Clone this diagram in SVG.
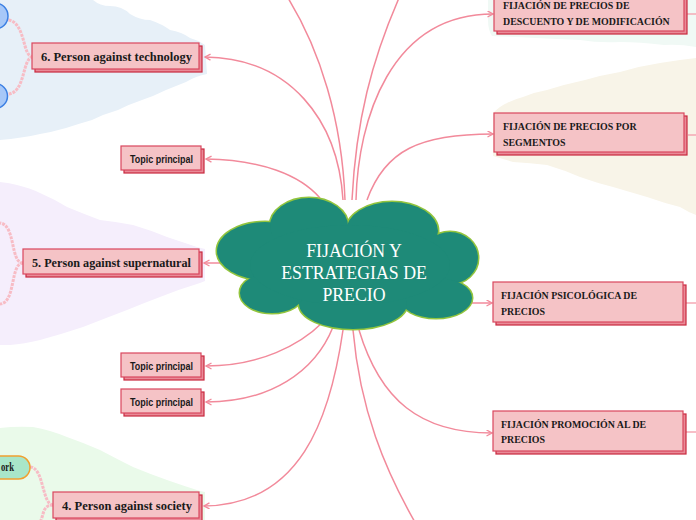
<svg xmlns="http://www.w3.org/2000/svg" width="696" height="520" viewBox="0 0 696 520">
<defs>
<style>
.conn{fill:none;stroke:#f28a9b;stroke-width:1.5}
.sub{fill:none;stroke:#f7bcc5;stroke-width:3;stroke-dasharray:3 1}
.out{fill:none;stroke:#f5a9b5;stroke-width:1.5}
.bk{fill:#e98a97;stroke:#c9283f;stroke-width:1.2}
.fr{fill:#f5c3c6;stroke:#d9475e;stroke-width:1.2}
.lt{font-family:"Liberation Serif","DejaVu Serif",serif;font-weight:bold;font-size:12.5px;fill:#1a1a1a}
.tp{font-family:"Liberation Sans","DejaVu Sans",sans-serif;font-weight:bold;font-size:11.5px;fill:#1a1a1a}
.rt{font-family:"Liberation Serif","Times New Roman",serif;font-weight:bold;font-size:9.9px;fill:#1a1a1a}
.ct{font-family:"Liberation Serif","Times New Roman",serif;font-size:17.8px;fill:#ffffff;text-anchor:middle}
.cs{fill:none;stroke:#93c53e;stroke-width:3}
.cf{fill:#1e8a78}
</style>
<marker id="arr" markerWidth="8" markerHeight="8" refX="6" refY="3.5" orient="auto" markerUnits="userSpaceOnUse">
<path d="M0.5,0.5 L6,3.5 L0.5,6.5" fill="none" stroke="#f28a9b" stroke-width="1.4"/>
</marker>
</defs>

<g id="backgrounds">
<path d="M93,0 Q100,6 110,6 Q122,6 130,14 Q140,20 150,20 Q162,24 170,30 Q182,32 190,38 Q198,40 205,45 L207,74 Q196,76 186,82 Q176,86 166,90 Q154,96 142,100 Q130,104 118,110 Q104,114 92,120 Q78,124 66,128 Q52,132 40,134 Q22,138 0,140 L0,0 Z" fill="#e7f0f8"/>
<path d="M0,182 Q10,183 17,185 Q30,188 40,193 Q54,199 67,207 Q84,214 100,220 Q118,222 133,225 Q150,230 167,237 Q182,242 197,247 L205,249 L205,281 L200,283 Q180,289 160,297 Q144,303 127,310 Q106,318 83,327 Q62,334 40,340 Q24,344 10,345 L0,345 Z" fill="#f5eefc"/>
<path d="M0,428 Q16,426 33,427 Q50,430 67,437 Q84,443 100,450 Q117,459 133,467 Q150,474 167,480 Q184,486 200,491 L205,492 L205,520 L0,520 Z" fill="#eafaea"/>
<path d="M488,0 L696,0 L696,47 Q680,44 664,45 Q640,42 620,42 Q598,43 580,40 Q556,39 536,38 Q512,37 492,36 Q488,30 488,20 Z" fill="#f0f9f5"/>
<path d="M493,113 Q500,106 507,103 Q515,99 523,97 Q535,92 547,90 Q566,84 585,80 Q602,75 620,72 Q640,66 660,63 Q678,60 696,58 L696,215 Q688,212 680,207 Q664,203 647,197 Q630,192 613,187 Q597,183 580,177 Q564,170 547,165 Q530,163 513,162 Q503,159 493,156 Z" fill="#f8f4e8"/>
</g>

<g id="connectors">
<path class="conn" d="M343,200 C338,120 290,58 205,57" marker-end="url(#arr)"/>
<path class="conn" d="M320,198 C300,175 262,160 206,159" marker-end="url(#arr)"/>
<path class="conn" d="M345,200 C342,120 320,50 288,-2"/>
<path class="conn" d="M352,200 C356,120 372,60 399,-2"/>
<path class="conn" d="M356,200 C358,120 390,14 493,14" marker-end="url(#arr)"/>
<path class="conn" d="M367,200 C385,150 420,134 493,134" marker-end="url(#arr)"/>
<path class="conn" d="M224,263 L204,263" marker-end="url(#arr)"/>
<path class="conn" d="M466,303 L492,303" marker-end="url(#arr)"/>
<path class="conn" d="M323,322 C300,345 260,366 206,366" marker-end="url(#arr)"/>
<path class="conn" d="M333,327 C315,372 270,402 206,402" marker-end="url(#arr)"/>
<path class="conn" d="M343,330 C330,420 300,505 204,506" marker-end="url(#arr)"/>
<path class="conn" d="M353,330 C360,410 385,470 416,524"/>
<path class="conn" d="M359,330 C380,400 420,433 492,433" marker-end="url(#arr)"/>
<path class="sub" d="M33,57 C22,57 26,22 8,20"/>
<path class="sub" d="M33,57 C22,57 26,93 8,94"/>
<path class="sub" d="M23,263 C10,263 16,225 0,223"/>
<path class="sub" d="M23,263 C10,263 16,303 0,304"/>
<path class="sub" d="M53,505 C42,505 44,467 30,467"/>
<path class="sub" d="M53,505 C42,505 44,516 40,522"/>
<path class="out" d="M687,14 L696,14"/>
<path class="out" d="M688,135 L696,135"/>
<path class="out" d="M686,303 L696,303"/>
<path class="out" d="M686,432 L696,432"/>
</g>

<g id="center">
<ellipse class="cs" cx="265" cy="251" rx="48" ry="29"/>
<ellipse class="cs" cx="309" cy="226" rx="39" ry="28"/>
<ellipse class="cs" cx="392" cy="231" rx="46" ry="29"/>
<ellipse class="cs" cx="450" cy="258" rx="28" ry="26"/>
<ellipse class="cs" cx="436" cy="298" rx="36" ry="20"/>
<ellipse class="cs" cx="353" cy="304" rx="54" ry="25"/>
<ellipse class="cs" cx="272" cy="293" rx="32" ry="20"/>
<ellipse class="cf" cx="265" cy="251" rx="48" ry="29"/>
<ellipse class="cf" cx="309" cy="226" rx="39" ry="28"/>
<ellipse class="cf" cx="392" cy="231" rx="46" ry="29"/>
<ellipse class="cf" cx="450" cy="258" rx="28" ry="26"/>
<ellipse class="cf" cx="436" cy="298" rx="36" ry="20"/>
<ellipse class="cf" cx="353" cy="304" rx="54" ry="25"/>
<ellipse class="cf" cx="272" cy="293" rx="32" ry="20"/>
<ellipse class="cf" cx="350" cy="265" rx="100" ry="40"/>
<text class="ct" x="354" y="257">FIJACIÓN Y</text>
<text class="ct" x="354" y="279">ESTRATEGIAS DE</text>
<text class="ct" x="354" y="301">PRECIO</text>
</g>

<g id="circle-a"><circle cx="-5" cy="16" r="13" fill="#a7c8f8" stroke="#3b7fe3" stroke-width="1.5"/></g>
<g id="circle-b"><circle cx="-5" cy="96" r="12.5" fill="#a7c8f8" stroke="#3b7fe3" stroke-width="1.5"/></g>
<g id="pill-ork"><rect x="-30" y="456" width="60" height="23" rx="11.5" fill="#a9e6c9" stroke="#f0a030" stroke-width="1.5"/><text class="lt" x="1" y="471" textLength="13" lengthAdjust="spacingAndGlyphs">ork</text></g>

<g id="n6">
<rect class="bk" x="35" y="46" width="167" height="26"/>
<rect class="fr" x="32" y="43" width="167" height="26"/>
<text class="lt" x="41" y="61" textLength="151" lengthAdjust="spacingAndGlyphs">6. Person against technology</text>
</g>
<g id="tp1">
<rect class="bk" x="124" y="149" width="80" height="24"/>
<rect class="fr" x="121" y="146" width="80" height="24"/>
<text class="tp" x="130" y="163" textLength="63" lengthAdjust="spacingAndGlyphs">Topic principal</text>
</g>
<g id="n5">
<rect class="bk" x="26" y="252" width="176" height="25"/>
<rect class="fr" x="23" y="249" width="176" height="25"/>
<text class="lt" x="32" y="267" textLength="159" lengthAdjust="spacingAndGlyphs">5. Person against supernatural</text>
</g>
<g id="tp2">
<rect class="bk" x="124" y="356" width="80" height="24"/>
<rect class="fr" x="121" y="353" width="80" height="24"/>
<text class="tp" x="130" y="370" textLength="63" lengthAdjust="spacingAndGlyphs">Topic principal</text>
</g>
<g id="tp3">
<rect class="bk" x="124" y="392" width="80" height="24"/>
<rect class="fr" x="121" y="389" width="80" height="24"/>
<text class="tp" x="130" y="406" textLength="63" lengthAdjust="spacingAndGlyphs">Topic principal</text>
</g>
<g id="n4">
<rect class="bk" x="56" y="495" width="146" height="26"/>
<rect class="fr" x="53" y="492" width="146" height="26"/>
<text class="lt" x="62" y="510" textLength="130" lengthAdjust="spacingAndGlyphs">4. Person against society</text>
</g>

<g id="r1">
<rect class="bk" x="497" y="-9" width="190" height="43"/>
<rect class="fr" x="494" y="-12" width="190" height="43"/>
<text class="rt" x="503" y="9">FIJACIÓN DE PRECIOS DE</text>
<text class="rt" x="503" y="25">DESCUENTO Y DE MODIFICACIÓN</text>
</g>
<g id="r2">
<rect class="bk" x="497" y="116" width="190" height="39"/>
<rect class="fr" x="494" y="113" width="190" height="39"/>
<text class="rt" x="503" y="130">FIJACIÓN DE PRECIOS POR</text>
<text class="rt" x="503" y="146">SEGMENTOS</text>
</g>
<g id="r3">
<rect class="bk" x="496" y="285" width="190" height="40"/>
<rect class="fr" x="493" y="282" width="190" height="40"/>
<text class="rt" x="501" y="299">FIJACIÓN PSICOLÓGICA DE</text>
<text class="rt" x="501" y="315">PRECIOS</text>
</g>
<g id="r4">
<rect class="bk" x="496" y="414" width="190" height="40"/>
<rect class="fr" x="493" y="411" width="190" height="40"/>
<text class="rt" x="501" y="428">FIJACIÓN PROMOCIÓN AL DE</text>
<text class="rt" x="501" y="443">PRECIOS</text>
</g>
</svg>
